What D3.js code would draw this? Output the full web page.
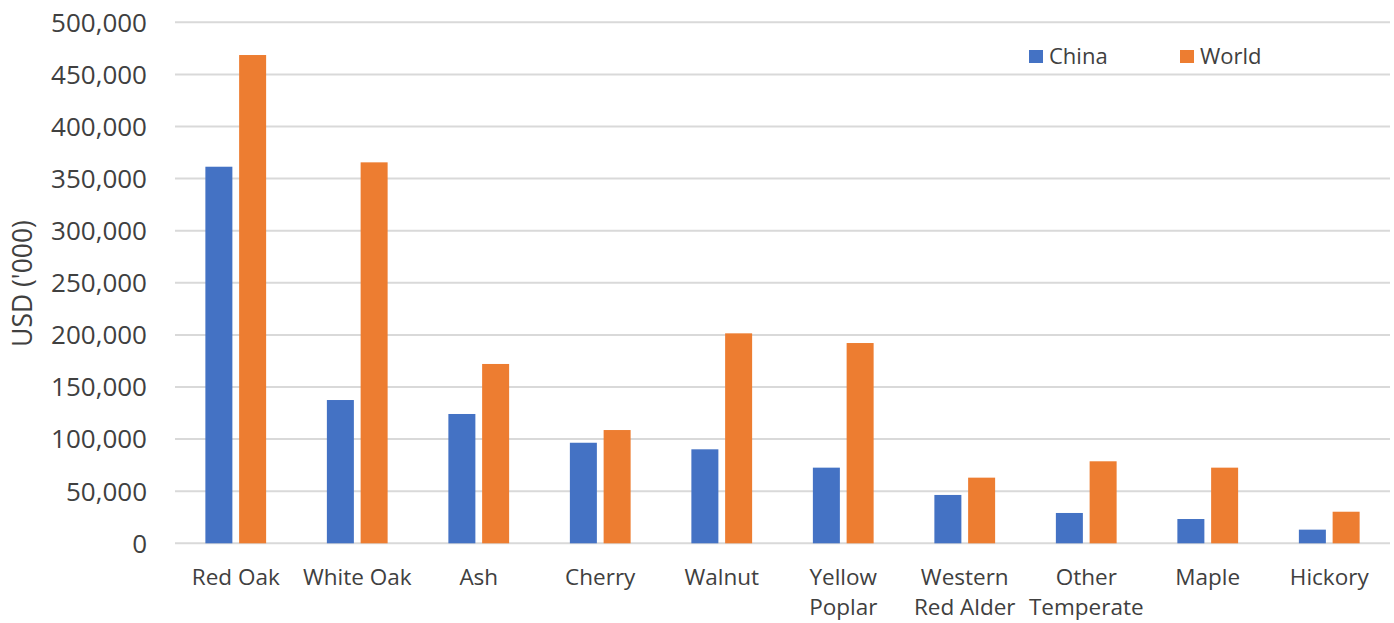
<!DOCTYPE html>
<html>
<head>
<meta charset="utf-8">
<script src="https://cdn.jsdelivr.net/npm/d3@7"></script>
<style>
  body { margin: 0; background: #fff; }
  text { font-family: "Open Sans", "Noto Sans", sans-serif; fill: #404040; }
</style>
</head>
<body>
<div id="chart"></div>
<script>
(function() {

  var categories = ["Red Oak", "White Oak", "Ash", "Cherry", "Walnut", "Yellow Poplar",
                    "Western Red Alder", "Other Temperate", "Maple", "Hickory"];
  // label lines as they wrap under the axis
  var labelLines = [["Red Oak"], ["White Oak"], ["Ash"], ["Cherry"], ["Walnut"], ["Yellow", "Poplar"],
                    ["Western", "Red Alder"], ["Other", "Temperate"], ["Maple"], ["Hickory"]];
  var series = ["China", "World"];
  var china = [361400, 137500, 124100, 96500, 90200, 72600, 46400, 29100, 23300, 13100];
  var world = [468600, 365600, 172100, 108700, 201500, 192200, 63000, 78700, 72600, 30300];
  var yTicks = [0, 50000, 100000, 150000, 200000, 250000, 300000, 350000, 400000, 450000, 500000];
  var colors = ["#4472C4", "#ED7D31"];

  var width = 1394, height = 623,
      left = 175, right = 1390, top = 22.3, bottom = 543.3;

  var svg = d3.select("#chart").append("svg")
      .attr("width", width)
      .attr("height", height);

  var x0 = d3.scaleBand()
      .domain(categories)
      .range([left, right])
      .paddingInner(0.5)
      .paddingOuter(0.25);

  var x1 = d3.scaleBand()
      .domain(series)
      .range([0, x0.bandwidth()])
      .paddingInner(0.2);

  var y = d3.scaleLinear()
      .domain([0, 500000])
      .range([bottom, top]);

  var fmt = d3.format(",");

  // gridlines
  svg.append("g")
    .selectAll("line")
    .data(yTicks)
    .join("line")
      .attr("x1", left)
      .attr("x2", right)
      .attr("y1", function(d) { return y(d); })
      .attr("y2", function(d) { return y(d); })
      .attr("stroke", "#d9d9d9")
      .attr("stroke-width", 2);

  // y tick labels
  svg.append("g")
    .selectAll("text")
    .data(yTicks)
    .join("text")
      .attr("x", 147)
      .attr("y", function(d) { return y(d); })
      .attr("dy", "0.36em")
      .attr("text-anchor", "end")
      .style("font-size", "26px")
      .text(function(d) { return fmt(d); });

  svg.append("text")
      .attr("transform", "translate(32," + 283.5 + ") rotate(-90)")
      .attr("text-anchor", "middle")
      .style("font-size", "26.5px")
      .text("USD ('000)");

  // bars
  var rows = categories.map(function(c, i) {
    return { cat: c, values: [china[i], world[i]] };
  });

  svg.append("g")
    .selectAll("g")
    .data(rows)
    .join("g")
      .attr("transform", function(d) { return "translate(" + x0(d.cat) + ",0)"; })
    .selectAll("rect")
    .data(function(d) { return d.values.map(function(v, j) { return { s: series[j], v: v, c: colors[j] }; }); })
    .join("rect")
      .attr("x", function(d) { return x1(d.s); })
      .attr("width", x1.bandwidth())
      .attr("y", function(d) { return y(d.v); })
      .attr("height", function(d) { return bottom - y(d.v); })
      .attr("fill", function(d) { return d.c; });

  // category labels
  var lab = svg.append("g")
    .selectAll("text")
    .data(categories)
    .join("text")
      .attr("text-anchor", "middle")
      .attr("x", function(d) { return x0(d) + x0.bandwidth() / 2; })
      .attr("y", 585)
      .style("font-size", "22.5px");

  lab.selectAll("tspan")
    .data(function(d, i) { return labelLines[i]; })
    .join("tspan")
      .attr("x", function() { return d3.select(this.parentNode).attr("x"); })
      .attr("dy", function(d, i) { return i ? 30 : 0; })
      .text(function(d) { return d; });

  // legend
  var legend = svg.append("g")
    .selectAll("g")
    .data(series)
    .join("g")
      .attr("transform", function(d, i) { return "translate(" + [1029, 1180][i] + ",50)"; });

  legend.append("rect")
      .attr("width", 14)
      .attr("height", 13)
      .attr("fill", function(d, i) { return colors[i]; });

  legend.append("text")
      .attr("x", 20)
      .attr("y", 13.5)
      .style("font-size", "22px")
      .text(function(d) { return d; });

})()
</script>
</body>
</html>
